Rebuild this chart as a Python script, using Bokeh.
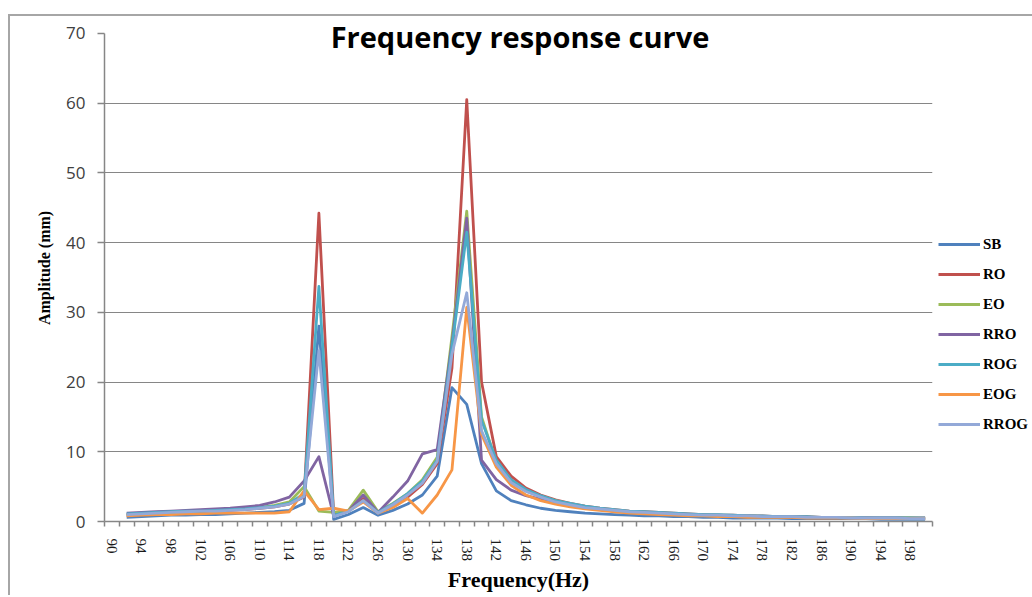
from bokeh.plotting import figure
from bokeh.models import Range1d, FixedTicker, Legend, LegendItem, Label, InlineStyleSheet
from bokeh.embed import file_html
from bokeh.resources import INLINE

freq = list(range(92, 201, 2))

SB = [0.6,0.7,0.8,0.9,0.9,1.0,1.0,1.1,1.2,1.3,1.4,1.6,2.6,28.0,0.3,1.0,2.0,0.9,1.6,2.5,3.8,6.5,19.2,16.8,8.3,4.4,3.0,2.4,1.9,1.6,1.4,1.2,1.1,1.0,0.9,0.8,0.8,0.7,0.7,0.6,0.6,0.5,0.5,0.5,0.5,0.4,0.4,0.4,0.4,0.4,0.4,0.3,0.3,0.3,0.3]
RO = [0.9,1.0,1.1,1.2,1.3,1.4,1.5,1.6,1.7,1.9,2.1,2.5,3.5,44.2,1.0,1.5,3.3,1.3,2.3,3.5,5.3,8.3,22.0,60.5,20.0,9.3,6.5,4.8,3.8,3.1,2.6,2.2,1.9,1.7,1.5,1.4,1.3,1.2,1.1,1.0,0.9,0.9,0.8,0.8,0.7,0.7,0.7,0.6,0.6,0.6,0.6,0.5,0.5,0.5,0.5]
EO = [1.0,1.1,1.2,1.3,1.4,1.5,1.6,1.7,1.8,2.0,2.3,2.8,5.0,1.5,1.3,1.6,4.5,1.4,2.6,4.0,6.0,9.2,26.5,44.5,15.0,8.5,5.9,4.5,3.6,3.0,2.5,2.1,1.8,1.6,1.4,1.3,1.2,1.1,1.0,0.9,0.9,0.8,0.8,0.7,0.7,0.6,0.6,0.6,0.6,0.5,0.5,0.5,0.5,0.5,0.4]
RRO = [1.2,1.3,1.4,1.5,1.6,1.7,1.8,1.9,2.1,2.3,2.8,3.5,5.8,9.3,0.8,1.5,3.8,1.3,3.5,5.8,9.7,10.3,25.5,43.5,8.8,6.0,4.5,3.7,3.2,2.7,2.3,2.0,1.7,1.5,1.4,1.3,1.2,1.1,1.0,0.9,0.9,0.8,0.8,0.7,0.7,0.6,0.6,0.6,0.6,0.5,0.5,0.5,0.5,0.4,0.4]
ROG = [1.1,1.2,1.3,1.4,1.5,1.5,1.6,1.7,1.8,2.0,2.2,2.6,4.0,33.7,0.9,1.5,3.0,1.3,2.5,4.0,5.8,8.8,25.0,41.5,14.5,8.8,6.0,4.6,3.7,3.0,2.6,2.2,1.9,1.7,1.5,1.4,1.3,1.2,1.1,1.0,1.0,0.9,0.8,0.8,0.7,0.7,0.7,0.6,0.6,0.6,0.5,0.5,0.5,0.5,0.5]
EOG = [0.8,0.9,1.0,1.0,1.1,1.1,1.2,1.2,1.2,1.2,1.2,1.4,4.4,1.7,1.9,1.5,2.8,1.2,2.0,3.3,1.2,3.8,7.4,30.7,12.5,7.8,5.2,3.8,3.0,2.5,2.1,1.8,1.6,1.4,1.2,1.1,1.0,0.9,0.8,0.8,0.7,0.7,0.6,0.6,0.6,0.6,0.5,0.5,0.5,0.5,0.4,0.4,0.4,0.4,0.4]
RROG = [1.0,1.1,1.2,1.3,1.4,1.5,1.5,1.6,1.7,1.9,2.1,2.5,3.6,24.5,0.7,1.4,3.0,1.2,2.4,3.8,5.5,8.6,24.0,32.8,13.0,8.3,5.6,4.3,3.5,2.8,2.4,2.0,1.8,1.6,1.4,1.3,1.2,1.1,1.0,0.9,0.9,0.8,0.8,0.7,0.7,0.7,0.6,0.6,0.6,0.5,0.5,0.5,0.5,0.4,0.4]

series_names = ["SB", "RO", "EO", "RRO", "ROG", "EOG", "RROG"]
series_values = [SB, RO, EO, RRO, ROG, EOG, RROG]
colors = ["#4F81BD", "#C0504D", "#9BBB59", "#8064A2", "#4BACC6", "#F79646", "#93A9D8"]

x_tick_labels = list(range(90, 200, 4))
x_category_edges = list(range(89, 202, 2))
y_ticks = [0, 10, 20, 30, 40, 50, 60, 70]
y_grid = [10, 20, 30, 40, 50, 60]

chart_border = InlineStyleSheet(css="""
:host::after {
  content: "";
  position: absolute;
  left: 8px; top: 14px; right: 0; bottom: 0;
  border-left: 2px solid #a6a6a6;
  border-top: 2px solid #a6a6a6;
  pointer-events: none;
}
""")

p = figure(frame_width=828, frame_height=507, output_backend="svg", toolbar_location=None,
           x_range=Range1d(89, 201), y_range=Range1d(0, 72.7),
           min_border_left=104, min_border_right=10, min_border_top=14, min_border_bottom=70,
           stylesheets=[chart_border])
p.outline_line_color = None
p.background_fill_color = "white"
p.border_fill_color = "white"

axis_gray = "#868686"
# X axis
xa = p.xaxis[0]
xa.ticker = FixedTicker(ticks=x_tick_labels, minor_ticks=x_category_edges)
xa.axis_line_color = axis_gray
xa.axis_line_width = 1.5
xa.major_tick_line_color = None
xa.major_tick_out = 0
xa.major_tick_in = 0
xa.minor_tick_line_color = axis_gray
xa.minor_tick_line_width = 1.5
xa.minor_tick_out = 5
xa.minor_tick_in = 0
xa.major_label_orientation = "vertical"
xa.major_label_standoff = 12
xa.major_label_text_font = "Liberation Serif"
xa.major_label_text_font_size = "15px"
xa.major_label_text_color = "#1a1a1a"
xa.axis_label = "Frequency(Hz)"
xa.axis_label_text_font = "Liberation Serif"
xa.axis_label_text_font_style = "bold"
xa.axis_label_text_font_size = "22px"
xa.axis_label_text_color = "#000000"
xa.axis_label_standoff = 3

# Y axis
ya = p.yaxis[0]
ya.ticker = FixedTicker(ticks=y_ticks, minor_ticks=[])
ya.bounds = (0, 70)
ya.axis_line_color = axis_gray
ya.axis_line_width = 1.5
ya.major_tick_line_color = axis_gray
ya.major_tick_line_width = 1.5
ya.major_tick_out = 7
ya.major_tick_in = 0
ya.minor_tick_line_color = None
ya.major_label_standoff = 12
ya.major_label_text_font = "Open Sans"
ya.major_label_text_font_size = "17px"
ya.major_label_text_color = "#404040"
ya.axis_label = "Amplitude (mm)"
ya.axis_label_text_font = "Liberation Serif"
ya.axis_label_text_font_style = "bold"
ya.axis_label_text_font_size = "16px"
ya.axis_label_text_color = "#000000"
ya.axis_label_standoff = 10

p.xgrid.grid_line_color = None
p.ygrid.ticker = FixedTicker(ticks=y_grid)
p.ygrid.grid_line_color = axis_gray
p.ygrid.grid_line_width = 1.2

items = []
for name, vals, col in zip(series_names, series_values, colors):
    r = p.line(freq, vals, line_color=col, line_width=2.8, line_join="round")
    items.append(LegendItem(label=name, renderers=[r]))

legend = Legend(items=items, location=(6, 87), orientation="vertical",
                glyph_width=42, glyph_height=20, label_height=20, spacing=10,
                label_standoff=3, padding=0, margin=0,
                border_line_color=None, background_fill_alpha=0,
                label_text_font="Liberation Serif", label_text_font_size="15px",
                label_text_font_style="bold", label_text_color="#000000")
p.add_layout(legend, "right")

title = Label(x=145.2, y=69.6, text="Frequency response curve", text_align="center",
              text_baseline="middle", text_font="Open Sans", text_font_style="bold",
              text_font_size="29px", text_color="#000000")
p.add_layout(title)

open("out.html", "w").write(file_html(p, INLINE))
